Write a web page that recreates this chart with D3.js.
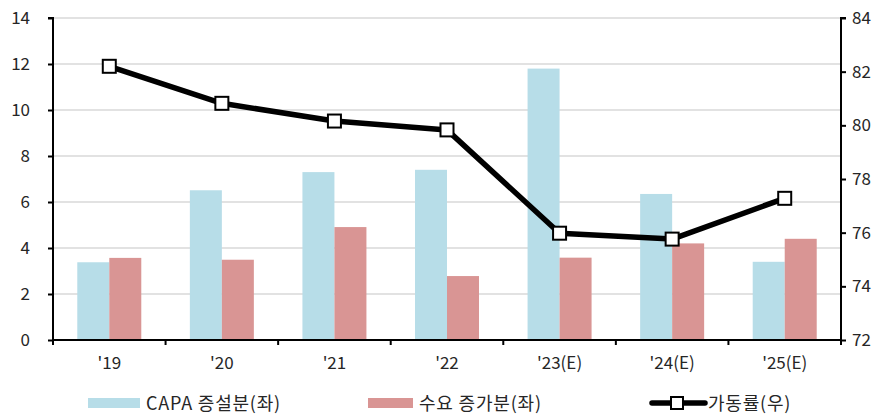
<!DOCTYPE html>
<html>
<head>
<meta charset="utf-8">
<script src="https://cdn.jsdelivr.net/npm/d3@7"></script>
<style>
  html, body { margin: 0; padding: 0; background: #fff; }
  svg text { font-family: "Noto Sans CJK KR", "Noto Sans", sans-serif; fill: #262626; }
</style>
</head>
<body>
<svg id="chart" width="880" height="415"></svg>
<script>
const categories = ["'19", "'20", "'21", "'22", "'23(E)", "'24(E)", "'25(E)"];
const capaAdd = [3.38, 6.51, 7.30, 7.40, 11.80, 6.35, 3.40];
const demandAdd = [3.57, 3.49, 4.91, 2.78, 3.58, 4.20, 4.40];
const utilization = [82.2, 80.82, 80.16, 79.83, 75.98, 75.76, 77.28];
const leftTicks = [0, 2, 4, 6, 8, 10, 12, 14];
const rightTicks = [72, 74, 76, 78, 80, 82, 84];
const seriesNames = ["CAPA 증설분(좌)", "수요 증가분(좌)", "가동률(우)"];

const colors = { capa: "#b7dde8", demand: "#d99594", line: "#000" };

const svg = d3.select("#chart");
const m = { left: 53, right: 39, top: 18, bottom: 75 };
const W = 880, H = 415;
const x0 = m.left, x1 = W - m.right, y0 = H - m.bottom, y1 = m.top;

const x = d3.scaleBand().domain(categories).range([x0, x1]).paddingInner(0).paddingOuter(0);
const yL = d3.scaleLinear().domain([0, 14]).range([y0, y1]);
const yR = d3.scaleLinear().domain([72, 84]).range([y0, y1]);
const barW = 32;
const tickFont = 17;
const legendFont = 18;

// gridlines
svg.append("g").selectAll("line").data(leftTicks.filter(d => d > 0)).join("line")
  .attr("x1", x0).attr("x2", x1)
  .attr("y1", d => yL(d)).attr("y2", d => yL(d))
  .attr("stroke", "#d9d9d9").attr("stroke-width", 1.3);

// bars
const cx = c => x(c) + x.bandwidth() / 2;
svg.append("g").selectAll("rect").data(categories).join("rect")
  .attr("x", c => cx(c) - barW).attr("width", barW)
  .attr("y", (c, i) => yL(capaAdd[i])).attr("height", (c, i) => y0 - yL(capaAdd[i]))
  .attr("fill", colors.capa);
svg.append("g").selectAll("rect").data(categories).join("rect")
  .attr("x", c => cx(c)).attr("width", barW)
  .attr("y", (c, i) => yL(demandAdd[i])).attr("height", (c, i) => y0 - yL(demandAdd[i]))
  .attr("fill", colors.demand);

// axes
const axL = svg.append("g").attr("transform", `translate(${x0},0)`)
  .call(d3.axisLeft(yL).tickValues(leftTicks).tickSize(5).tickPadding(18));
const axR = svg.append("g").attr("transform", `translate(${x1},0)`)
  .call(d3.axisRight(yR).tickValues(rightTicks).tickSize(5).tickPadding(6));
const axB = svg.append("g").attr("transform", `translate(0,${y0})`)
  .call(d3.axisBottom(x).tickSize(0).tickPadding(17));
// category boundary ticks on the x axis
svg.append("g").selectAll("line").data(d3.range(categories.length + 1)).join("line")
  .attr("x1", i => x0 + i * x.bandwidth()).attr("x2", i => x0 + i * x.bandwidth())
  .attr("y1", y0).attr("y2", y0 + 5)
  .attr("stroke", "#000").attr("stroke-width", 2);

[axL, axR, axB].forEach(g => {
  g.selectAll(".domain").attr("stroke", "#000").attr("stroke-width", 2);
  g.selectAll(".tick line").attr("stroke", "#000").attr("stroke-width", 2);
  g.selectAll(".tick text").attr("font-size", tickFont).attr("fill", "#262626")
    .style("font-family", '"Noto Sans CJK KR", "Noto Sans", sans-serif');
});
axB.select(".domain").attr("d", `M${x0},0H${x1}`);
axL.select(".domain").attr("d", `M-5,${y1}H0V${y0}`);
axR.select(".domain").attr("d", `M5,${y1}H0V${y0}`);

// utilization line
const line = d3.line().x((d, i) => cx(categories[i])).y(d => yR(d));
svg.append("path").datum(utilization).attr("d", line)
  .attr("fill", "none").attr("stroke", colors.line).attr("stroke-width", 5.5)
  .attr("stroke-linejoin", "round");
const mk = 13;
svg.append("g").selectAll("rect").data(utilization).join("rect")
  .attr("x", (d, i) => cx(categories[i]) - mk / 2).attr("y", d => yR(d) - mk / 2)
  .attr("width", mk).attr("height", mk)
  .attr("fill", "#fff").attr("stroke", "#000").attr("stroke-width", 2);

// legend
const ly = 403;
const leg = svg.append("g").style("letter-spacing", "0.8px");
leg.append("rect").attr("x", 88).attr("y", ly - 5).attr("width", 52).attr("height", 10).attr("fill", colors.capa);
leg.append("text").attr("x", 146).attr("y", ly + 1).attr("dy", "0.35em").attr("font-size", legendFont).text(seriesNames[0]);
leg.append("rect").attr("x", 368).attr("y", ly - 5).attr("width", 45).attr("height", 10).attr("fill", colors.demand);
leg.append("text").attr("x", 419).attr("y", ly + 1).attr("dy", "0.35em").attr("font-size", legendFont).text(seriesNames[1]);
leg.append("line").attr("x1", 652).attr("x2", 705).attr("y1", ly).attr("y2", ly)
  .attr("stroke", "#000").attr("stroke-width", 5.5).attr("stroke-linecap", "round");
leg.append("rect").attr("x", 677 - 6).attr("y", ly - 6).attr("width", 12).attr("height", 12)
  .attr("fill", "#fff").attr("stroke", "#000").attr("stroke-width", 2);
leg.append("text").attr("x", 708).attr("y", ly + 1).attr("dy", "0.35em").attr("font-size", legendFont).text(seriesNames[2]);
</script>
</body>
</html>
